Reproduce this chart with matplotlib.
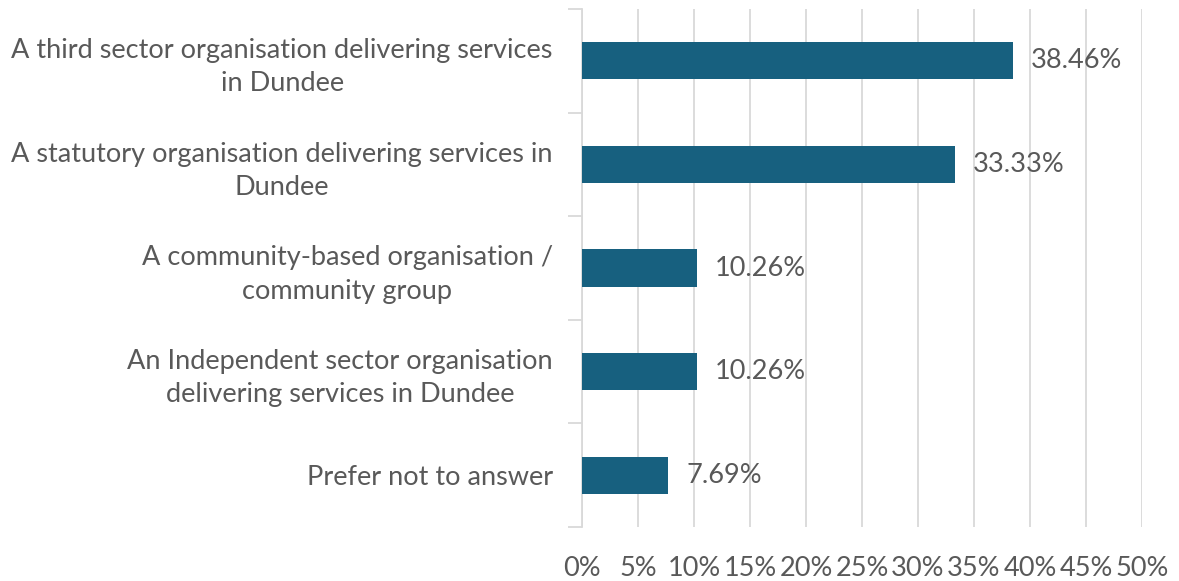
import matplotlib
matplotlib.use('Agg')
import matplotlib.pyplot as plt
import numpy as np

# ---- data ----
categories = [
    'A third sector organisation delivering services\nin Dundee',
    'A statutory organisation delivering services in\nDundee',
    'A community-based organisation /\ncommunity group',
    'An Independent sector organisation\ndelivering services in Dundee',
    'Prefer not to answer',
]
values = [38.46, 33.33, 10.26, 10.26, 7.69]
xticks = [0, 5, 10, 15, 20, 25, 30, 35, 40, 45, 50]

bar_color = '#17607f'
text_color = '#595959'
grid_color = '#d9d9d9'
fs = 19.5

plt.rcParams['font.family'] = ['Lato', 'DejaVu Sans']

fig = plt.figure(figsize=(11.79, 5.81), dpi=100)
ax = fig.add_axes([582/1179, 54/581, 560/1179, 518/581])

y = np.arange(len(categories))
ax.barh(y, values, height=0.36, color=bar_color, zorder=3)

for yi, v in zip(y, values):
    ax.text(v + 1.6, yi, '{0:.2f}%'.format(v), va='center', ha='left',
            fontsize=fs, color=text_color)

ax.set_xlim(0, 50)
ax.set_ylim(len(categories) - 0.5, -0.5)
ax.set_xticks(xticks)
ax.set_xticklabels(['{0}%'.format(t) for t in xticks], fontsize=fs, color=text_color)
ax.tick_params(axis='x', length=0, pad=21)
ax.grid(axis='x', color=grid_color, linewidth=1.3, zorder=0)

# category labels on major ticks, separator ticks on minor
ax.set_yticks(y)
ax.set_yticklabels(categories, fontsize=fs, color=text_color, ha='right',
                   multialignment='center', linespacing=1.4)
ax.tick_params(axis='y', which='major', length=0, pad=21)
ax.set_yticks(np.arange(-0.5, len(categories)), minor=True)
ax.tick_params(axis='y', which='minor', length=10, width=1.3, color=grid_color)

for s in ['top', 'right', 'bottom']:
    ax.spines[s].set_visible(False)
ax.spines['left'].set_color(grid_color)
ax.spines['left'].set_linewidth(1.3)

plt.savefig('out.png', dpi=100)
